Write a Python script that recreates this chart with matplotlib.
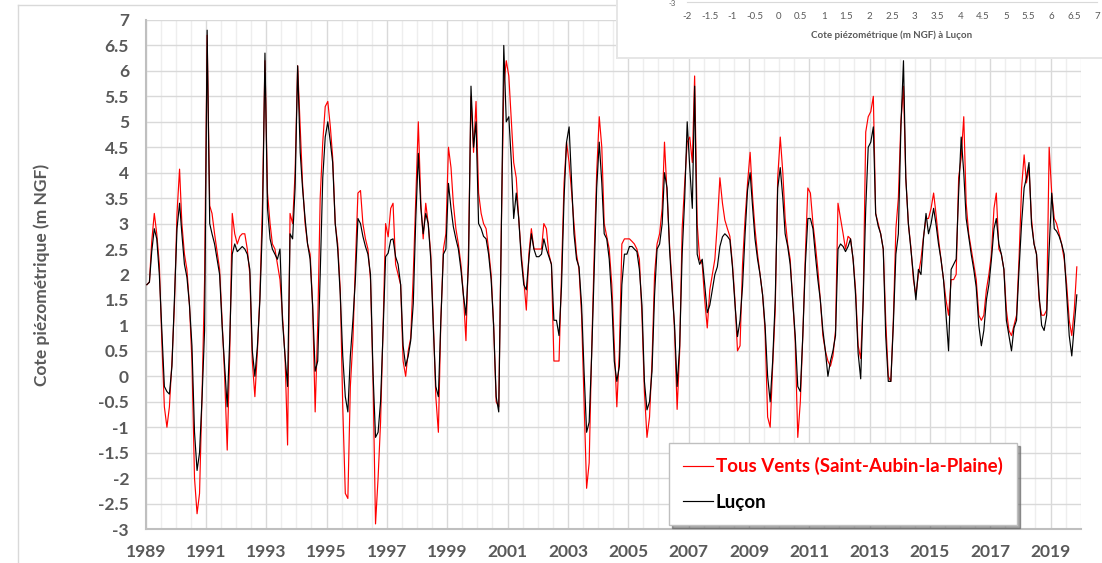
import matplotlib
matplotlib.use("Agg")
import matplotlib.pyplot as plt
import matplotlib.dates as mdates
from matplotlib.patches import Rectangle
from matplotlib.lines import Line2D
import numpy as np
import pandas as pd

plt.rcParams['font.family'] = ['Lato', 'DejaVu Sans']

# monthly levels (m NGF), Jan 1989 -> Nov 2019, one row per year
lucon = [
    1.8, 1.85, 2.45, 2.9, 2.7, 2.0, 0.9, -0.2, -0.3, -0.35, 0.2, 1.5,      # 1989
    2.9, 3.4, 2.8, 2.2, 1.95, 1.4, 0.6, -1.1, -1.85, -1.5, -0.4, 0.9,      # 1990
    6.8, 3.0, 2.8, 2.6, 2.3, 2.0, 1.0, 0.2, -0.6, 0.7, 2.4, 2.6,           # 1991
    2.45, 2.5, 2.55, 2.5, 2.4, 2.1, 0.5, 0.0, 0.6, 1.5, 3.0, 6.35,         # 1992
    3.3, 2.7, 2.5, 2.4, 2.3, 2.5, 1.1, 0.4, -0.2, 2.8, 2.7, 3.7,           # 1993
    6.1, 4.4, 3.7, 3.1, 2.6, 2.3, 1.4, 0.1, 0.3, 2.0, 3.9, 4.7,            # 1994
    5.0, 4.6, 4.2, 3.0, 2.5, 1.6, 0.4, -0.4, -0.7, 0.4, 1.1, 1.9,          # 1995
    3.1, 3.0, 2.75, 2.55, 2.4, 2.0, 0.1, -1.2, -1.1, -0.5, 0.9, 2.35,      # 1996
    2.42, 2.68, 2.7, 2.35, 2.2, 1.8, 0.6, 0.2, 0.4, 0.7, 1.43, 3.07,       # 1997
    4.38, 3.3, 2.8, 3.2, 3.0, 2.3, 1.0, -0.2, -0.4, 1.1, 2.4, 2.5,         # 1998
    3.79, 3.3, 2.94, 2.7, 2.5, 2.1, 1.6, 1.2, 2.2, 5.7, 4.5, 5.0,          # 1999
    3.0, 2.9, 2.75, 2.7, 2.4, 1.9, 1.0, -0.4, -0.7, 2.7, 6.5, 5.0,         # 2000
    5.1, 4.2, 3.1, 3.6, 3.1, 2.3, 1.8, 1.7, 2.3, 2.8, 2.5, 2.35,           # 2001
    2.35, 2.4, 2.7, 2.5, 2.35, 2.2, 1.1, 1.1, 0.8, 1.76, 3.5, 4.6,         # 2002
    4.9, 3.8, 2.8, 2.3, 2.15, 1.4, 0.1, -1.1, -0.9, 0.4, 2.1, 3.7,         # 2003
    4.6, 3.8, 2.8, 2.7, 2.3, 1.5, 0.3, -0.1, 0.2, 1.8, 2.4, 2.4,           # 2004
    2.55, 2.55, 2.5, 2.45, 2.1, 1.4, -0.1, -0.66, -0.5, 0.1, 1.6, 2.5,     # 2005
    2.6, 3.0, 4.0, 3.7, 2.5, 1.7, 1.0, -0.2, 0.6, 2.4, 3.5, 5.0,           # 2006
    4.1, 3.3, 5.7, 2.4, 2.2, 2.3, 1.8, 1.25, 1.4, 1.7, 2.0, 2.15,          # 2007
    2.55, 2.74, 2.8, 2.75, 2.68, 2.15, 1.43, 0.78, 1.1, 1.76, 2.8, 3.66,   # 2008
    4.0, 3.3, 2.7, 2.3, 2.0, 1.6, 1.0, 0.0, -0.5, 0.3, 1.5, 3.7,           # 2009
    4.1, 3.5, 2.8, 2.55, 2.2, 1.5, 0.8, -0.2, -0.3, 0.8, 2.2, 3.1,         # 2010
    3.1, 2.9, 2.4, 1.9, 1.5, 0.9, 0.5, 0.0, 0.3, 0.5, 0.8, 2.5,            # 2011
    2.6, 2.55, 2.45, 2.55, 2.7, 2.3, 1.6, 0.45, -0.05, 1.5, 3.3, 4.5,      # 2012
    4.6, 4.9, 3.2, 2.95, 2.8, 2.5, 0.8, -0.1, -0.1, 1.0, 2.4, 2.8,         # 2013
    4.9, 6.2, 3.9, 3.0, 2.5, 2.0, 1.5, 2.1, 2.0, 2.7, 3.2, 2.8,            # 2014
    3.0, 3.3, 3.0, 2.6, 2.3, 1.9, 1.2, 0.5, 2.1, 2.2, 2.3, 3.6,            # 2015
    4.7, 4.0, 3.1, 2.75, 2.4, 2.1, 1.75, 1.0, 0.6, 0.9, 1.5, 1.8,          # 2016
    2.3, 2.9, 3.1, 2.6, 2.4, 2.1, 1.1, 0.8, 0.5, 0.95, 1.1, 2.1,           # 2017
    3.0, 3.7, 3.9, 4.2, 3.0, 2.6, 2.4, 1.6, 1.0, 0.9, 1.2, 2.5,            # 2018
    3.6, 2.9, 2.85, 2.75, 2.6, 2.4, 1.6, 0.8, 0.4, 1.0, 1.6,               # 2019
]

tous_vents = [
    1.8, 1.85, 2.65, 3.2, 2.8, 2.2, 0.7, -0.6, -1.0, -0.6, 0.3, 1.4,       # 1989
    3.2, 4.07, 3.0, 2.4, 2.1, 1.4, 0.3, -2.0, -2.7, -2.3, -0.3, 1.9,       # 1990
    6.7, 3.35, 3.2, 2.8, 2.45, 2.1, 1.1, 0.0, -1.45, 0.4, 3.2, 2.8,        # 1991
    2.6, 2.75, 2.8, 2.8, 2.5, 2.0, 0.3, -0.4, 0.5, 1.6, 3.4, 6.2,          # 1992
    3.6, 3.0, 2.6, 2.5, 2.2, 1.9, 1.2, 0.4, -1.35, 3.2, 3.0, 4.0,          # 1993
    6.1, 4.9, 3.8, 3.0, 2.6, 2.4, 1.4, -0.7, 1.0, 3.5, 4.6, 5.3,           # 1994
    5.4, 4.9, 4.3, 3.0, 2.6, 1.7, -0.6, -2.3, -2.4, -0.2, 0.7, 2.2,        # 1995
    3.6, 3.65, 3.0, 2.7, 2.5, 1.9, 0.0, -2.9, -2.0, -0.9, 1.0, 3.0,        # 1996
    2.74, 3.3, 3.4, 2.2, 2.0, 1.8, 0.3, 0.0, 0.5, 0.75, 2.0, 3.5,          # 1997
    5.0, 3.4, 2.7, 3.4, 3.0, 2.4, 1.1, -0.4, -1.1, 1.1, 2.5, 2.8,          # 1998
    4.5, 4.1, 3.4, 2.9, 2.6, 2.2, 1.6, 0.7, 2.5, 5.5, 4.4, 5.4,            # 1999
    3.6, 3.2, 3.0, 2.9, 2.5, 2.0, 1.0, -0.5, -0.6, 2.8, 5.7, 6.2,          # 2000
    5.9, 5.0, 4.2, 3.9, 3.1, 2.4, 1.9, 1.3, 2.4, 2.9, 2.5, 2.5,            # 2001
    2.5, 2.5, 3.0, 2.9, 2.4, 2.2, 0.3, 0.3, 0.3, 2.0, 3.8, 4.6,            # 2002
    4.2, 3.6, 3.0, 2.4, 2.1, 1.2, -0.5, -2.2, -1.7, 0.5, 2.4, 4.0,         # 2003
    5.1, 4.5, 3.0, 2.75, 2.5, 1.8, 0.6, -0.6, 0.5, 2.6, 2.7, 2.7,          # 2004
    2.7, 2.65, 2.6, 2.5, 2.3, 1.2, -0.3, -1.2, -0.8, 0.3, 2.0, 2.6,        # 2005
    2.8, 3.3, 4.6, 3.6, 2.6, 1.8, 0.9, -0.65, 0.5, 2.9, 3.8, 4.6,          # 2006
    4.7, 4.2, 5.9, 3.0, 2.3, 2.2, 1.5, 0.95, 1.7, 2.0, 2.3, 3.0,           # 2007
    3.9, 3.4, 3.07, 2.9, 2.75, 2.2, 1.5, 0.5, 0.6, 2.2, 3.1, 3.8,          # 2008
    4.4, 3.5, 2.9, 2.4, 2.0, 1.6, 0.9, -0.8, -1.0, 0.2, 1.3, 3.9,          # 2009
    4.7, 4.0, 3.1, 2.6, 2.3, 1.5, 0.7, -1.2, -0.5, 0.8, 2.4, 3.7,          # 2010
    3.6, 3.0, 2.6, 2.1, 1.5, 0.8, 0.5, 0.3, 0.2, 0.4, 0.9, 3.4,            # 2011
    3.1, 2.8, 2.5, 2.75, 2.7, 2.3, 1.7, 0.6, 0.35, 1.5, 4.8, 5.1,          # 2012
    5.2, 5.5, 3.2, 3.0, 2.8, 2.5, 1.1, 0.0, -0.1, 1.1, 2.9, 3.5,           # 2013
    5.0, 5.7, 3.9, 3.0, 2.55, 1.9, 1.6, 2.0, 2.3, 2.74, 3.1, 3.1,          # 2014
    3.3, 3.6, 3.2, 2.7, 2.3, 1.9, 1.5, 1.2, 1.9, 1.9, 2.0, 3.9,            # 2015
    4.3, 5.1, 3.4, 2.8, 2.5, 2.2, 1.9, 1.2, 1.1, 1.2, 1.7, 2.0,            # 2016
    2.4, 3.3, 3.6, 2.5, 2.4, 2.1, 1.3, 0.9, 0.8, 1.0, 1.2, 2.3,            # 2017
    3.7, 4.35, 3.8, 4.1, 3.1, 2.6, 2.4, 1.5, 1.2, 1.2, 1.3, 4.5,           # 2018
    3.6, 3.1, 3.0, 2.8, 2.6, 2.3, 1.8, 1.1, 0.8, 1.3, 2.15,                # 2019
]

start_month = '1989-01'
y_ticks = np.arange(-3, 7.01, 0.5)
year_ticks = pd.date_range('1989-01-01', '2019-01-01', freq='2YS')
inset_ticks = np.arange(-2, 7.01, 0.5)

dates = pd.date_range(start_month, periods=len(lucon), freq='MS') + pd.Timedelta(days=14)

W, H = 1102, 563
fig = plt.figure(figsize=(W / 100, H / 100), dpi=100)
fig.patch.set_facecolor('white')

# chart-area border (only left/top visible in the crop)
fig.add_artist(Line2D([18 / W, 18 / W], [0, 1 - 5 / H], transform=fig.transFigure,
                      color='#d9d9d9', lw=1))
fig.add_artist(Line2D([18 / W, 1], [1 - 5 / H, 1 - 5 / H], transform=fig.transFigure,
                      color='#d9d9d9', lw=1))

x0, x1, ytop, ybot = 145.7, 1080.7, 20, 529
ax = fig.add_axes([x0 / W, 1 - ybot / H, (x1 - x0) / W, (ybot - ytop) / H])

ax.plot(dates, tous_vents, color='#ff0000', lw=0.85, label='Tous Vents (Saint-Aubin-la-Plaine)', zorder=3)
ax.plot(dates, lucon, color='black', lw=0.85, label='Luçon', zorder=4)

ax.set_xlim(pd.Timestamp('1989-01-01'), pd.Timestamp('2020-01-01'))
ax.set_ylim(-3, 7)
ax.set_yticks(y_ticks)
ax.set_yticklabels([f'{v:g}' for v in y_ticks])
ax.set_xticks(year_ticks)
ax.xaxis.set_minor_locator(mdates.MonthLocator([1, 7]))
ax.xaxis.set_major_formatter(mdates.DateFormatter('%Y'))

ax.grid(True, which='major', color='#d9d9d9', lw=1.0, zorder=0)
ax.grid(True, which='minor', axis='x', color='#eeeeee', lw=1.0, zorder=0)
ax.set_axisbelow(True)

for s in ['top', 'right']:
    ax.spines[s].set_visible(False)
for s in ['left', 'bottom']:
    ax.spines[s].set_color('#bfbfbf')
    ax.spines[s].set_linewidth(1.5)

ax.tick_params(which='both', length=0, colors='#595959', labelsize=12.5)
ax.tick_params(axis='y', pad=12)
ax.tick_params(axis='x', pad=11)
for lab in ax.get_xticklabels() + ax.get_yticklabels():
    lab.set_fontweight('bold')

ax.set_ylabel('Cote piézométrique (m NGF)', fontsize=12.5, fontweight='bold', color='#595959')
ax.yaxis.set_label_coords((50 - x0) / (x1 - x0), 0.5)

leg = ax.legend(loc='upper left', bbox_to_anchor=(669 / W, 1 - 443 / H),
                bbox_transform=fig.transFigure, fontsize=13.5, frameon=True,
                fancybox=False, shadow=True, edgecolor='#bfbfbf', framealpha=1,
                handlelength=1.6, handletextpad=0.15, borderpad=0.75, labelspacing=1.0,
                borderaxespad=0)
leg.get_frame().set_linewidth(1)
for txt, col in zip(leg.get_texts(), ['#ff0000', 'black']):
    txt.set_color(col)
    txt.set_fontweight('bold')
leg.set_zorder(20)

# overlapping fragment of another chart (top right)
fig.add_artist(Rectangle((616 / W, 1 - 59 / H), (W - 616) / W, 59 / H, transform=fig.transFigure,
                         facecolor='#e6e6e6', edgecolor='none', zorder=9))
fig.add_artist(Rectangle((618 / W, 1 - 57 / H), (W - 618) / W, 57 / H, transform=fig.transFigure,
                         facecolor='white', edgecolor='none', zorder=10))
ax_in = fig.add_axes([687 / W, 1 - 2 / H, 410 / W, 1 / H], zorder=11)
ax_in.set_xlim(-2, 7)
ax_in.set_xticks(inset_ticks)
ax_in.set_xticklabels([f'{v:g}' for v in inset_ticks])
ax_in.set_yticks([])
ax_in.patch.set_visible(False)
for s in ['top', 'right', 'left']:
    ax_in.spines[s].set_visible(False)
ax_in.spines['bottom'].set_color('#d9d9d9')
ax_in.tick_params(length=0, labelsize=7, colors='#595959', pad=7)
ax_in.set_xlabel('Cote piézométrique (m NGF) à Luçon', fontsize=7, fontweight='bold',
                 color='#595959', labelpad=7)
fig.text(672 / W, 1 - 0.5 / H, '-3', fontsize=5.5, color='#595959', ha='center', va='top', zorder=12)

fig.savefig('out.png', dpi=100)
